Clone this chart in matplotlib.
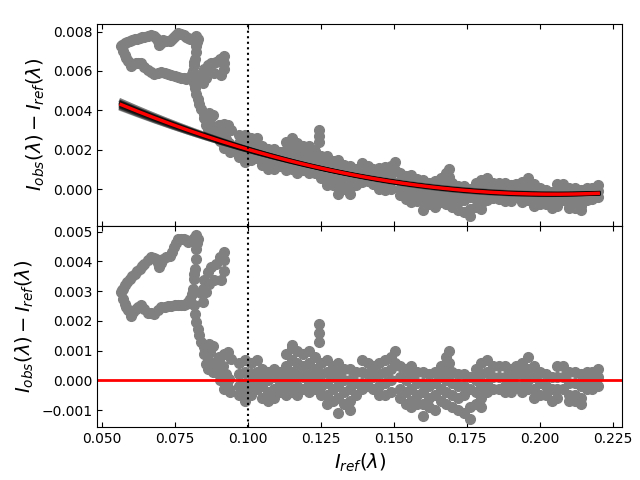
import numpy as np
import matplotlib
matplotlib.use("Agg")
import matplotlib.pyplot as plt
from matplotlib.ticker import MultipleLocator, FormatStrFormatter

# I_ref values (units of 1e-3) and residuals from the best fit (units of 1e-4)
# loop at low I_ref
loop_x = [56.6, 57.2, 57.8, 58.3, 58.9, 60.0, 60.8, 61.7, 62.5, 63.4, 64.5, 65.7,
          66.8, 68.0, 69.2, 70.3, 71.5, 72.6, 73.8, 74.9, 76.0, 77.1, 78.0, 78.8,
          79.6, 80.3, 80.8, 81.1, 81.5, 81.7, 81.9, 82.1, 82.3, 82.6, 82.8, 82.3,
          81.7, 81.1, 80.2, 79.4, 78.7, 78.0, 77.0, 76.0, 75.3, 74.6, 73.9, 73.2,
          72.0, 70.9, 70.3, 69.7, 69.1, 68.6, 67.7, 66.9, 65.7, 64.6, 63.7, 62.9,
          62.0, 61.2, 60.3, 59.5, 58.6, 57.8, 57.2, 56.8]
loop_r = [29.6, 27.4, 25.7, 24.6, 23.5, 21.8, 23.0, 24.1, 24.8, 25.2, 23.9, 22.7,
          22.5, 22.4, 23.5, 24.6, 24.8, 24.9, 25.0, 25.2, 25.2, 25.2, 25.4, 25.7,
          26.5, 27.4, 29.0, 30.8, 34.1, 35.8, 37.5, 40.8, 44.2, 46.0, 47.6, 48.9,
          48.0, 47.0, 46.7, 46.4, 47.0, 47.6, 47.6, 47.6, 46.2, 44.7, 43.3, 41.9,
          41.3, 40.8, 39.4, 38.0, 39.4, 40.8, 41.1, 41.4, 40.3, 39.2, 38.3, 37.5,
          36.6, 35.8, 35.0, 34.1, 33.0, 31.9, 30.8, 30.5]

# descending stem and the small spike next to it
stem_x = [81.1, 81.7, 81.9, 82.3, 82.8, 83.4, 84.0, 85.1, 86.8, 88.0, 85.1, 86.3,
          86.3, 88.0, 89.1, 90.3, 91.4, 92.6, 93.7, 93.7, 92.0, 93.1, 90.3, 94.2,
          88.5, 90.0, 91.5, 92.5, 93.0, 94.0, 92.0, 90.5, 89.0, 85.7, 86.0, 87.2,
          84.0, 84.5, 85.1, 86.3, 87.4, 89.1, 90.3, 91.7, 92.0, 91.7, 90.8, 88.5,
          86.8, 85.7, 84.5]
stem_r = [29.2, 25.2, 22.4, 19.6, 17.4, 15.1, 12.9, 11.2, 12.3, 11.7, 9.0, 7.3,
          3.9, 2.8, 4.5, 2.2, 0.6, -1.1, -2.8, 0.6, 9.0, 9.5, 7.8, 7.3,
          6.0, 8.0, 5.0, 2.0, -1.0, -4.0, -3.0, 0.0, 3.0, 5.5, 10.0, 9.5,
          29.2, 30.8, 33.6, 36.3, 38.0, 39.2, 41.4, 43.3, 40.3, 36.9, 33.6, 33.6,
          32.4, 29.6, 26.3]

# noisy part, I_ref > 0.095
noise_x = [97, 97, 97, 97, 99, 99, 99, 99, 99, 101, 101, 101, 101,
           103, 103, 103, 103, 105, 105, 105, 105, 107, 107, 107, 107,
           109, 109, 109, 109, 111, 111, 111, 113, 113, 113, 113, 113,
           115, 115, 115, 115, 115, 115, 117, 117, 117, 117, 117,
           119, 119, 119, 119, 121, 121, 121, 121, 121, 123, 123, 123, 123,
           124.3, 124.3, 124.3, 125, 125, 125, 125, 127, 127, 127, 127, 127,
           129, 129, 129, 129, 131, 131, 131, 131, 131, 133, 133, 133, 133,
           135, 135, 135, 135, 135, 137, 137, 137, 139, 139, 139, 139,
           141, 141, 141, 143, 143, 143, 145, 145, 145, 145,
           147, 147, 147, 147, 149, 149, 149, 149, 150.5, 150.5,
           152, 152, 152, 152, 154, 154, 154, 154, 156, 156, 156, 156, 156,
           158, 158, 158, 158, 160, 160, 160, 160, 160, 162, 162, 162, 162,
           164, 164, 164, 164, 166, 166, 166, 166, 168, 168, 168, 168, 168,
           169, 169, 170, 170, 170, 170, 172, 172, 172, 172,
           174, 174, 174, 174, 176, 176, 176, 176, 178, 178, 178, 178,
           180, 180, 180, 180, 180, 182, 182, 182, 182, 184, 184, 184,
           186, 186, 186, 188, 188, 188, 188, 190, 190, 190, 192, 192, 192,
           194, 194, 194, 194, 196, 196, 196, 196, 198, 198, 198, 198,
           200, 200, 200, 202, 202, 202, 204, 204, 204, 206, 206, 206, 206,
           208, 208, 208, 210, 210, 210, 210, 212, 212, 212, 212,
           214, 214, 214, 214, 216, 216, 216, 218, 218, 218, 220, 220, 220]
noise_r = [6, 2, -2, -5, 7, 3, -1, -4, -7, 6, 2, -2, -5,
           7, 3, 0, -3, 4, 1, -2, -6, 3, 0, -4, -7,
           4, 1, -3, -6, 3, -1, -4, 9, 5, 1, -2, -5,
           12, 11, 7, 3, -1, -4, 10, 6, 2, -2, -5,
           9, 5, 1, -3, 10, 6, 2, -1, -4, 8, 4, 0, -3,
           19, 16, 13, 6, 2, -2, -5, 7, 3, -1, -5, -8,
           5, 1, -3, -7, 6, 2, -2, -6, -11, 4, 0, -4, -8,
           4, 0, -3, -7, -10, 3, -1, -5, 7, 3, -1, -3,
           6, 2, -2, 5, 1, -3, 6, 2, -2, -5,
           7, 3, -1, -5, 8, 4, 0, -4, 10, 6,
           5, 1, -3, -6, 4, 0, -4, -8, 5, 1, -3, -7, -9,
           3, -1, -5, -8, 3, -1, -4, -8, -12, 2, -2, -6, -9,
           3, -1, -5, -10, 5, 1, -3, -7, 8, 4, 0, -4, -8,
           10, 6, 3, -1, -5, -9, 2, -2, -6, -10,
           2, -2, -5, -11, 1, -3, -9, -13, 4, 0, -4, -8,
           6, 2, -2, -6, -9, 7, 3, -1, -4, 5, 1, -3,
           5, 1, -3, 5, 1, -2, -4, 4, 0, -4, 5, 2, -2,
           6, 2, -2, -4, 8, 4, 0, -3, 5, 1, -3, -6,
           3, -1, -5, 2, -2, -5, 1, -3, -7, 5, 1, -3, -6,
           5, 1, -3, 3, -1, -5, -7, 3, -1, -5, -7,
           2, -2, -6, -8, 3, 0, -3, 3, 0, -3, 4, 1, -2]

# quadratic fit, vertex form a*(x - x0)**2 + c
best_fit = (0.206, 0.205, -0.00024)
sample_a = [0.186, 0.190, 0.194, 0.197, 0.200, 0.202, 0.204, 0.205, 0.206,
            0.207, 0.208, 0.210, 0.212, 0.215, 0.218, 0.222, 0.226]
sample_x0 = [0.208, 0.207, 0.206, 0.206, 0.205, 0.205, 0.205, 0.206, 0.205,
             0.204, 0.205, 0.205, 0.204, 0.204, 0.203, 0.203, 0.202]
sample_c = [-0.00020, -0.00021, -0.00022, -0.00023, -0.00023, -0.00024, -0.00024, -0.00025,
            -0.00024, -0.00023, -0.00024, -0.00025, -0.00024, -0.00026, -0.00026, -0.00027,
            -0.00028]


def quad(x, a, x0, c):
    return a * (x - x0) ** 2 + c


x_ref = np.array(loop_x + stem_x + noise_x) * 1e-3
resid = np.array(loop_r + stem_r + noise_r) * 1e-4
diff = resid + quad(x_ref, *best_fit)

xx = np.linspace(x_ref.min(), x_ref.max(), 200)

fig, (ax1, ax2) = plt.subplots(2, 1, sharex=True, figsize=(6.4, 4.8))
fig.subplots_adjust(left=0.152, right=0.972, top=0.95, bottom=0.11, hspace=0)

ax1.plot(x_ref, diff, 'o', color='gray', ms=7)
for a, x0, c in zip(sample_a, sample_x0, sample_c):
    ax1.plot(xx, quad(xx, a, x0, c), 'k-', lw=3, alpha=0.3)
ax1.plot(xx, quad(xx, *best_fit), 'r-', lw=2.5)
ax1.axvline(0.1, color='k', ls=':', lw=1.5)
ax1.set_ylim(-0.00183, 0.00838)
ax1.set_ylabel(r'$I_{obs}(\lambda) - I_{ref}(\lambda)$', fontsize=14)

ax2.plot(x_ref, resid, 'o', color='gray', ms=7)
ax2.axhline(0, color='r', lw=2)
ax2.axvline(0.1, color='k', ls=':', lw=1.5)
ax2.set_ylim(-0.00157, 0.0052)
ax2.set_ylabel(r'$I_{obs}(\lambda) - I_{ref}(\lambda)$', fontsize=14)
ax2.set_xlabel(r'$I_{ref}(\lambda)$', fontsize=14)
ax2.xaxis.set_major_locator(MultipleLocator(0.025))
ax2.xaxis.set_major_formatter(FormatStrFormatter('%.3f'))

for ax in (ax1, ax2):
    ax.tick_params(direction='in', top=True)

plt.savefig('out.png', dpi=100)
